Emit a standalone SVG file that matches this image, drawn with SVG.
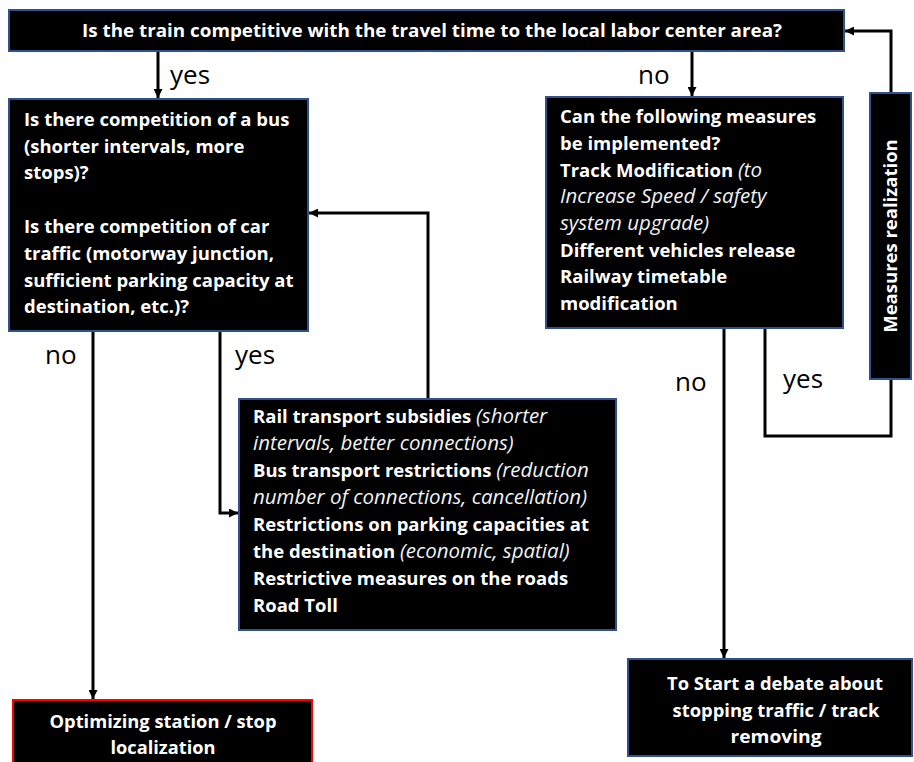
<svg xmlns="http://www.w3.org/2000/svg" width="914" height="762" viewBox="0 0 914 762">
<defs>
<marker id="ah" viewBox="0 0 10 10" refX="10" refY="5" markerWidth="9" markerHeight="9" markerUnits="userSpaceOnUse" orient="auto">
<path d="M0,0 L10,5 L0,10 z" fill="#000"/>
</marker>
<style>
.box{fill:#000;stroke:#2F528F;stroke-width:2}
.red{fill:#000;stroke:#FF0000;stroke-width:2}
.t{font-family:"Open Sans","Liberation Sans",sans-serif;font-size:18.5px;font-weight:bold;fill:#fff}
.i{font-style:italic;font-weight:normal;font-size:20.5px;fill:#f2f2f2}
.c{font-family:"Open Sans","Liberation Sans",sans-serif;font-size:18px;font-weight:bold;fill:#fff;text-anchor:middle}
.lbl{font-family:"Open Sans","Liberation Sans",sans-serif;font-size:26px;fill:#000}
.ln{fill:none;stroke:#000;stroke-width:3}
.la{fill:none;stroke:#000;stroke-width:3;marker-end:url(#ah)}
</style>
</defs>

<g id="connectors">
<path class="la" d="M158,51 V98"/>
<path class="la" d="M692,51 V96"/>
<path class="la" d="M93,331 V699"/>
<path class="la" d="M220,331 V513 H238"/>
<path class="la" d="M428,398 V213 H309"/>
<path class="la" d="M724,329 V658"/>
<path class="ln" d="M765,329 V436 H891 V379"/>
<path class="la" d="M891,93 V31 H845"/>
<text class="lbl" x="170" y="84">yes</text>
<text class="lbl" x="638" y="84">no</text>
<text class="lbl" x="45" y="364">no</text>
<text class="lbl" x="235" y="364">yes</text>
<text class="lbl" x="675" y="391">no</text>
<text class="lbl" x="783" y="388">yes</text>
</g>

<g id="n-top">
<rect class="box" x="9" y="10" width="835" height="41"/>
<text class="c" x="432" y="37" font-size="17" textLength="700" lengthAdjust="spacingAndGlyphs">Is the train competitive with the travel time to the local labor center area?</text>
</g>

<g id="n-competition">
<rect class="box" x="9" y="99" width="299" height="232"/>
<text class="t" x="24" y="126">Is there competition of a bus</text>
<text class="t" x="24" y="152.7">(shorter intervals, more</text>
<text class="t" x="24" y="179.3">stops)?</text>
<text class="t" x="24" y="233.3">Is there competition of car</text>
<text class="t" x="24" y="260">traffic (motorway junction,</text>
<text class="t" x="24" y="286.7">sufficient parking capacity at</text>
<text class="t" x="24" y="313.3">destination, etc.)?</text>
</g>

<g id="n-measures-q">
<rect class="box" x="546" y="97" width="297" height="231"/>
<text class="t" x="560" y="123.3">Can the following measures</text>
<text class="t" x="560" y="150">be implemented?</text>
<text class="t" x="560" y="176.7">Track Modification <tspan class="i">(to</tspan></text>
<text class="t i" x="560" y="203.3">Increase Speed / safety</text>
<text class="t i" x="560" y="230">system upgrade)</text>
<text class="t" x="560" y="256.7">Different vehicles release</text>
<text class="t" x="560" y="283.3">Railway timetable</text>
<text class="t" x="560" y="310">modification</text>
</g>

<g id="n-realization">
<rect class="box" x="870" y="93" width="41" height="286"/>
<text class="t" transform="translate(897,236) rotate(-90)" text-anchor="middle">Measures realization</text>
</g>

<g id="n-subsidies">
<rect class="box" x="239" y="399" width="377" height="231"/>
<text class="t" x="253" y="423">Rail transport subsidies <tspan class="i">(shorter</tspan></text>
<text class="t i" x="253" y="450">intervals, better connections)</text>
<text class="t" x="253" y="477">Bus transport restrictions <tspan class="i">(reduction</tspan></text>
<text class="t i" x="253" y="504">number of connections, cancellation)</text>
<text class="t" x="253" y="531">Restrictions on parking capacities at</text>
<text class="t" x="253" y="558">the destination <tspan class="i">(economic, spatial)</tspan></text>
<text class="t" x="253" y="585">Restrictive measures on the roads</text>
<text class="t" x="253" y="612">Road Toll</text>
</g>

<g id="n-optimizing">
<rect class="red" x="13" y="700" width="299" height="70"/>
<text class="c" x="163" y="728" textLength="227" lengthAdjust="spacingAndGlyphs">Optimizing station / stop</text>
<text class="c" x="163" y="754" textLength="105" lengthAdjust="spacingAndGlyphs">localization</text>
</g>

<g id="n-debate">
<rect class="box" x="628" y="659" width="284" height="97"/>
<text class="c" x="775" y="690" textLength="216" lengthAdjust="spacingAndGlyphs">To Start a debate about</text>
<text class="c" x="776" y="716.7" textLength="207" lengthAdjust="spacingAndGlyphs">stopping traffic / track</text>
<text class="c" x="776" y="743.4" textLength="91" lengthAdjust="spacingAndGlyphs">removing</text>
</g>
</svg>
